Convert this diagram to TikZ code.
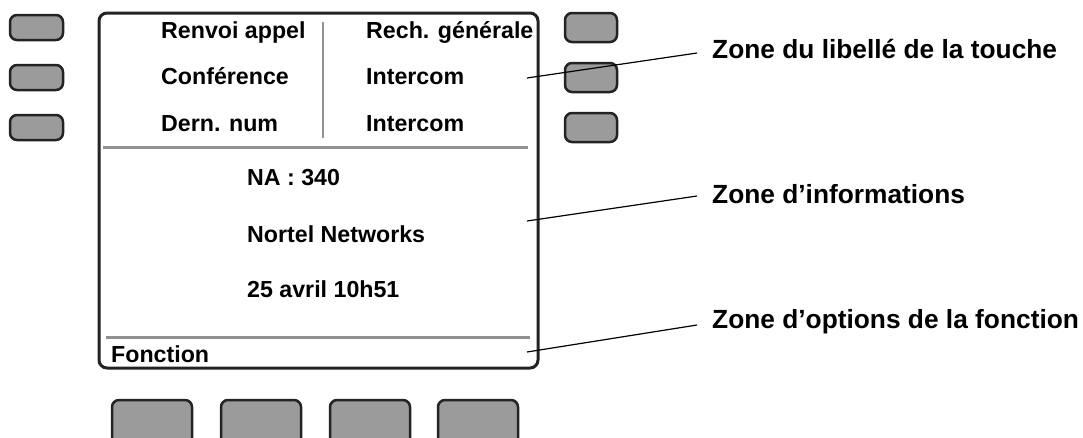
\documentclass[tikz,border=0pt]{standalone}
\usepackage{fontspec}
\setmainfont{Liberation Sans}
\usetikzlibrary{positioning}
\definecolor{keygray}{RGB}{155,155,155}
\definecolor{edge}{RGB}{35,35,35}
\definecolor{divider}{RGB}{145,145,145}

\begin{document}
\begin{tikzpicture}[x=1pt,y=-1pt,
  touche/.style={draw=edge,fill=keygray,line width=2.5pt,rounded corners=7pt},
  ecran/.style={anchor=base west,inner sep=0pt,font=\bfseries\fontsize{23.2}{27}\selectfont},
  zone/.style={anchor=base west,inner sep=0pt,font=\bfseries\fontsize{26.3}{31}\selectfont},
  renvoi/.style={line width=1.2pt}]
\useasboundingbox (0,0) rectangle (1083,437);
% touches laterales et touches du bas
\foreach \y in {15,65,115} \draw[touche] (10,\y) rectangle (63,\y+25);
\foreach \y in {13,63,113} \draw[touche] (565,\y) rectangle (617,\y+29);
\foreach \x in {112,221,330,438} \draw[touche] (\x,450) |- (\x+80,400) -- (\x+80,450);
% ecran
\draw[edge,line width=3pt,rounded corners=8pt] (99,13) rectangle (538,368);
\draw[divider,line width=2.5pt] (323,22) -- (323,138);
\draw[divider,line width=3pt] (103,147) -- (528,147);
\draw[divider,line width=3pt] (106,337) -- (530,337);
\node[ecran] (renvoi) at (161,38) {Renvoi appel};
\node[ecran] (rech) at (366,38) {Rech. générale};
\node[ecran] (conf) at (161,84) {Conférence};
\node[ecran] (icom1) at (366,84) {Intercom};
\node[ecran] (dern) at (161,131) {Dern. num};
\node[ecran] (icom2) at (366,131) {Intercom};
\node[ecran] (na) at (247,185) {NA : 340};
\node[ecran] (nortel) at (247,242) {Nortel Networks};
\node[ecran] (date) at (247,297) {25 avril 10h51};
\node[ecran] (fonction) at (111,362) {Fonction};
% libelles des zones
\node[zone] (zlib) at (712,58) {Zone du libellé de la touche};
\node[zone] (zinfo) at (712,203) {Zone d’informations};
\node[zone] (zopt) at (712,328) {Zone d’options de la fonction};
\coordinate (plib) at (527,78);
\coordinate (pinfo) at (527,221);
\coordinate (popt) at (527,352);
\draw[renvoi] (plib) -- ([xshift=-15pt,yshift=5pt]zlib.base west);
\draw[renvoi] (pinfo) -- ([xshift=-15pt,yshift=7pt]zinfo.base west);
\draw[renvoi] (popt) -- ([xshift=-15pt,yshift=3pt]zopt.base west);
\end{tikzpicture}
\end{document}
